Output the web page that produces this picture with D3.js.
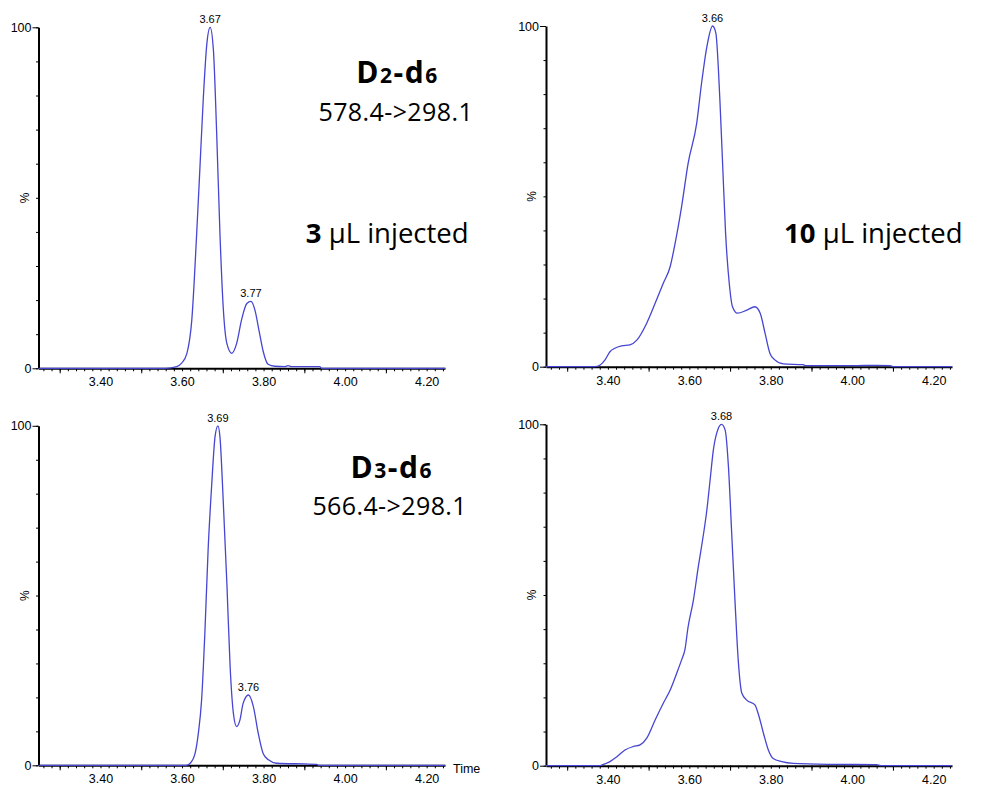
<!DOCTYPE html>
<html>
<head>
<meta charset="utf-8">
<script src="https://cdn.jsdelivr.net/npm/d3@7"></script>
<style>
  html, body { margin: 0; padding: 0; background: #ffffff; }
  svg { display: block; }
  .tick text { font-family: "Liberation Sans", Arial, sans-serif; }
</style>
</head>
<body>
<script>
// Shared axis settings (retention time in minutes, relative intensity in %)
const xDomain = [3.248, 4.245];
const yDomain = [0, 100];
const xTickLabels = [3.40, 3.60, 3.80, 4.00, 4.20];
const yTickLabels = [0, 100];

// D2-d6, 578.4->298.1, 3 µL injected
const d2d6_3uL_time = [3.248, 3.560, 3.587, 3.599, 3.612, 3.624, 3.636, 3.644, 3.652, 3.661, 3.669, 3.677, 3.685, 3.693, 3.701, 3.710, 3.722, 3.734, 3.746, 3.759, 3.769, 3.779, 3.789, 3.799, 3.811, 3.828, 3.853, 3.860, 3.868, 3.900, 3.938, 3.942, 4.245];
const d2d6_3uL_pct  = [0, 0, 0.5, 1.5, 4.4, 14.2, 39.6, 59, 78.7, 95.3, 100, 93.3, 68.9, 39.6, 18, 7.3, 4.4, 7.3, 14.2, 19, 19.6, 17, 11, 5, 1.2, 0.6, 0.5, 0.8, 0.5, 0.5, 0.5, 0, 0];
const d2d6_3uL_peaks = [3.669, 3.769];

// D2-d6, 578.4->298.1, 10 µL injected
const d2d6_10uL_time = [3.248, 3.368, 3.381, 3.393, 3.405, 3.417, 3.434, 3.454, 3.471, 3.495, 3.516, 3.536, 3.553, 3.565, 3.581, 3.597, 3.618, 3.630, 3.643, 3.657, 3.665, 3.675, 3.682, 3.689, 3.698, 3.706, 3.718, 3.741, 3.761, 3.774, 3.786, 3.798, 3.810, 3.831, 3.879, 3.885, 4.000, 4.060, 4.093, 4.100, 4.245];
const d2d6_10uL_pct  = [0, 0, 0.5, 2, 4.4, 5.4, 6.1, 6.4, 7.8, 12.7, 18.6, 24.5, 29.4, 36.2, 47, 59.7, 71.4, 83.2, 93.9, 100, 98, 78.3, 58.7, 39.2, 24.5, 17.6, 15.7, 16.6, 17.6, 15.7, 9.8, 3.9, 2, 0.8, 0.6, 0.3, 0.3, 0.4, 0.3, 0, 0];
const d2d6_10uL_peaks = [3.657];

// D3-d6, 566.4->298.1, 3 µL injected
const d3d6_3uL_time = [3.248, 3.610, 3.620, 3.632, 3.640, 3.648, 3.656, 3.664, 3.673, 3.681, 3.688, 3.693, 3.701, 3.710, 3.718, 3.726, 3.734, 3.742, 3.750, 3.763, 3.775, 3.787, 3.799, 3.812, 3.832, 3.900, 3.930, 3.935, 4.245];
const d3d6_3uL_pct  = [0, 0, 0.6, 3.5, 9.4, 19.2, 38.9, 63.4, 83, 96.8, 100, 96.8, 78.1, 53.6, 29, 15.3, 11.4, 13.3, 18.3, 20.7, 17.3, 9.4, 3.5, 1.6, 0.6, 0.4, 0.3, 0, 0];
const d3d6_3uL_peaks = [3.688, 3.763];

// D3-d6, 566.4->298.1, 10 µL injected
const d3d6_10uL_time = [3.248, 3.380, 3.385, 3.405, 3.422, 3.442, 3.462, 3.479, 3.495, 3.516, 3.536, 3.553, 3.569, 3.581, 3.589, 3.597, 3.610, 3.622, 3.630, 3.643, 3.651, 3.659, 3.671, 3.679, 3.688, 3.696, 3.704, 3.712, 3.720, 3.729, 3.741, 3.761, 3.769, 3.782, 3.794, 3.806, 3.827, 3.855, 3.950, 4.060, 4.070, 4.245];
const d3d6_10uL_pct  = [0, 0, 0.2, 1.2, 2.6, 4.6, 5.6, 6.1, 8, 13.4, 18.3, 22.2, 27.1, 31, 33.9, 40.7, 48.5, 58.3, 64.2, 74.9, 83.7, 92.5, 98.8, 100, 98.3, 87.6, 68.1, 48.5, 31, 21.2, 19.2, 17.8, 15.3, 9.5, 4.6, 2.1, 1.2, 0.7, 0.4, 0.3, 0, 0];
const d3d6_10uL_peaks = [3.679];

const traceColor = "#4646d2";
const axisFont = "Liberation Sans, Arial, sans-serif";
const noteFont = "Open Sans, Noto Sans, sans-serif";

const panels = [
  { time: d2d6_3uL_time,  pct: d2d6_3uL_pct,  peaks: d2d6_3uL_peaks,  x0: 38.5, x1: 445, yTop: 27.3,  yBot: 368.3, timeLabel: false },
  { time: d2d6_10uL_time, pct: d2d6_10uL_pct, peaks: d2d6_10uL_peaks, x0: 546,  x1: 952, yTop: 26,    yBot: 366.7, timeLabel: false },
  { time: d3d6_3uL_time,  pct: d3d6_3uL_pct,  peaks: d3d6_3uL_peaks,  x0: 38.5, x1: 445, yTop: 425.8, yBot: 765.3, timeLabel: true },
  { time: d3d6_10uL_time, pct: d3d6_10uL_pct, peaks: d3d6_10uL_peaks, x0: 546,  x1: 952, yTop: 424.3, yBot: 765.7, timeLabel: false }
];

const svg = d3.select("body").append("svg")
  .attr("width", 988).attr("height", 789)
  .attr("viewBox", "0 0 988 789");

svg.append("rect").attr("width", 988).attr("height", 789).attr("fill", "#ffffff");

// Minor ticks every 0.02 min, longer ticks on the odd tenths
const minorTicks = d3.range(Math.ceil(xDomain[0] / 0.02) * 0.02, xDomain[1], 0.02).map(v => +v.toFixed(2));
const oddTenths = [3.3, 3.5, 3.7, 3.9, 4.1];

function styleAxis(g, width) {
  g.select(".domain").attr("stroke", "#000").attr("stroke-width", width);
  g.selectAll(".tick line").attr("stroke", "#000").attr("stroke-width", 1);
  g.selectAll(".tick text").attr("fill", "#000").attr("font-family", axisFont);
}

panels.forEach(p => {
  const x = d3.scaleLinear().domain(xDomain).range([p.x0, p.x1]);
  const y = d3.scaleLinear().domain(yDomain).range([p.yBot, p.yTop]);
  const g = svg.append("g");

  // x axis: minor ticks
  const gxMinor = g.append("g").attr("transform", `translate(0,${p.yBot})`)
    .call(d3.axisBottom(x).tickValues(minorTicks).tickSize(3).tickSizeOuter(0).tickFormat(""));
  styleAxis(gxMinor, 2);
  // x axis: longer ticks
  const gxMajor = g.append("g").attr("transform", `translate(0,${p.yBot})`)
    .call(d3.axisBottom(x).tickValues(oddTenths).tickSize(5).tickSizeOuter(0).tickFormat(""));
  gxMajor.select(".domain").remove();
  styleAxis(gxMajor, 0);
  // x axis: labels
  const gxLab = g.append("g").attr("transform", `translate(0,${p.yBot})`)
    .call(d3.axisBottom(x).tickValues(xTickLabels).tickSize(0).tickPadding(9).tickFormat(d3.format(".2f")));
  gxLab.select(".domain").remove();
  styleAxis(gxLab, 0);
  gxLab.selectAll(".tick text").attr("font-size", 12.5);

  // y axis: small ticks every 10 %
  const gyMinor = g.append("g").attr("transform", `translate(${p.x0},0)`)
    .call(d3.axisLeft(y).tickValues(d3.range(0, 101, 10)).tickSize(2.5).tickSizeOuter(0).tickFormat(""));
  styleAxis(gyMinor, 2);
  const gyLab = g.append("g").attr("transform", `translate(${p.x0},0)`)
    .call(d3.axisLeft(y).tickValues(yTickLabels).tickSize(6).tickPadding(1).tickFormat(d3.format("d")));
  gyLab.select(".domain").remove();
  styleAxis(gyLab, 0);
  gyLab.selectAll(".tick text").attr("font-size", 12.5);

  // "%" axis title
  const ym = y(50);
  g.append("text")
    .attr("transform", `translate(${p.x0 - 10},${ym}) rotate(-90)`)
    .attr("text-anchor", "middle")
    .attr("font-family", axisFont).attr("font-size", 12)
    .text("%");

  // Chromatogram trace
  const idx = d3.range(p.time.length);
  const line = d3.line()
    .x(i => x(p.time[i]))
    .y(i => y(p.pct[i]))
    .curve(d3.curveMonotoneX);
  g.append("path")
    .attr("d", line(idx))
    .attr("fill", "none")
    .attr("stroke", traceColor)
    .attr("stroke-width", 1.3)
    .attr("stroke-linejoin", "round");

  // Peak retention-time labels
  p.peaks.forEach(t => {
    const i = p.time.indexOf(t);
    g.append("text")
      .attr("x", x(t)).attr("y", y(p.pct[i]) - 4)
      .attr("text-anchor", "middle")
      .attr("font-family", axisFont).attr("font-size", 11)
      .text(d3.format(".2f")(t));
  });

  if (p.timeLabel) {
    g.append("text")
      .attr("x", p.x1 + 8).attr("y", p.yBot + 8)
      .attr("font-family", axisFont).attr("font-size", 12.5)
      .text("Time");
  }
});

// Compound names with transitions and injection volumes
function compound(cx, cy, letter, n1, n2) {
  const t = svg.append("text")
    .attr("x", cx).attr("y", cy)
    .attr("text-anchor", "middle")
    .attr("font-family", noteFont).attr("font-weight", "bold")
    .attr("font-size", 30).attr("letter-spacing", 1.5);
  t.append("tspan").text(letter);
  t.append("tspan").attr("font-size", 21).text(n1);
  t.append("tspan").text("-d");
  t.append("tspan").attr("font-size", 21).text(n2);
}
function plain(cx, cy, txt) {
  svg.append("text")
    .attr("x", cx).attr("y", cy)
    .attr("text-anchor", "middle")
    .attr("font-family", noteFont).attr("font-size", 25)
    .attr("letter-spacing", 0.4)
    .text(txt);
}
function injected(cx, cy, vol) {
  const t = svg.append("text")
    .attr("x", cx).attr("y", cy)
    .attr("text-anchor", "middle")
    .attr("font-family", noteFont).attr("font-size", 27.5);
  t.append("tspan").attr("font-weight", "bold").text(vol);
  t.append("tspan").text(" µL injected");
}

compound(397.5, 83.3, "D", "2", "6");
plain(395.8, 121, "578.4->298.1");
injected(387.2, 243.3, "3");
injected(873.3, 243.3, "10");
compound(391.7, 478.3, "D", "3", "6");
plain(389.7, 515, "566.4->298.1");
</script>
</body>
</html>
